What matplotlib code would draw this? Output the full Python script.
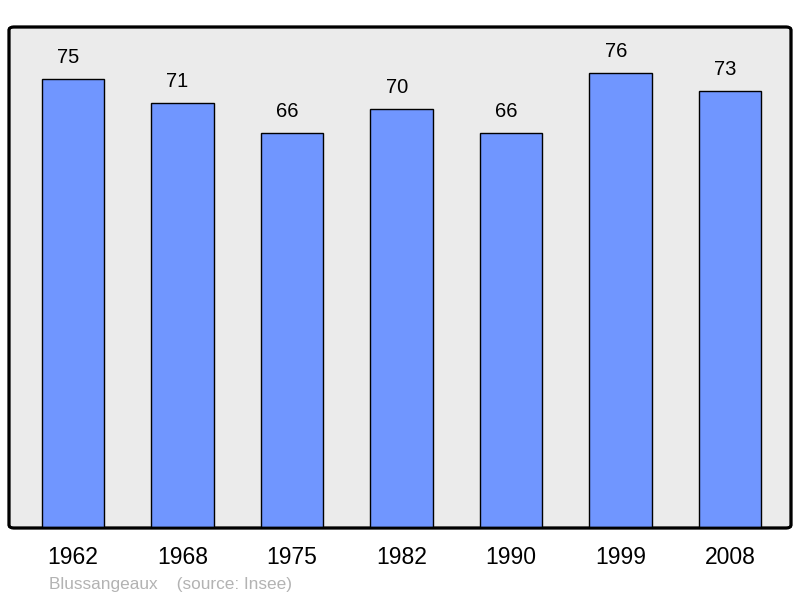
import matplotlib
matplotlib.use("Agg")
import matplotlib.pyplot as plt
from matplotlib.patches import FancyBboxPatch

years = ["1962", "1968", "1975", "1982", "1990", "1999", "2008"]
population = [75, 71, 66, 70, 66, 76, 73]
commune = "Blussangeaux"
source = "(source: Insee)"

plt.rcParams['font.family'] = ['Liberation Sans', 'DejaVu Sans']

fig = plt.figure(figsize=(8, 5.98), dpi=100)
ax = fig.add_axes([9/800, 70/598, 782/800, 501/598])
ax.set_facecolor("none")

x = list(range(len(years)))
bars = ax.bar(x, population, width=0.57, color="#7096ff", edgecolor="black",
              linewidth=1.0, zorder=2)
for xi, v in zip(x, population):
    ax.annotate(str(v), (xi, v), xytext=(-3.6, 11.5), textcoords="offset points",
                ha="center", va="baseline", fontsize=14.5, color="black")

ax.set_xlim(-0.585, 6.555)
ax.set_ylim(0, 83.7)
ax.set_xticks(x)
ax.set_xticklabels(years, fontsize=16.5)
ax.tick_params(axis="x", length=0, pad=13.2)
ax.set_yticks([])
for s in ax.spines.values():
    s.set_visible(False)

bg = FancyBboxPatch((0, 0), 1, 1, boxstyle="round,pad=0,rounding_size=0.006",
                    transform=ax.transAxes, facecolor="#ebebeb", edgecolor="black",
                    linewidth=2, zorder=0, clip_on=False)
ax.add_patch(bg)
frame = FancyBboxPatch((0, 0), 1, 1, boxstyle="round,pad=0,rounding_size=0.006",
                       transform=ax.transAxes, facecolor="none", edgecolor="black",
                       linewidth=2, zorder=3, clip_on=False)
ax.add_patch(frame)

fig.text(49/800, 1 - 584/598, commune + "    " + source, fontsize=12.4,
         color="#b3b3b3", va="center", ha="left")

fig.savefig("out.png", dpi=100)
